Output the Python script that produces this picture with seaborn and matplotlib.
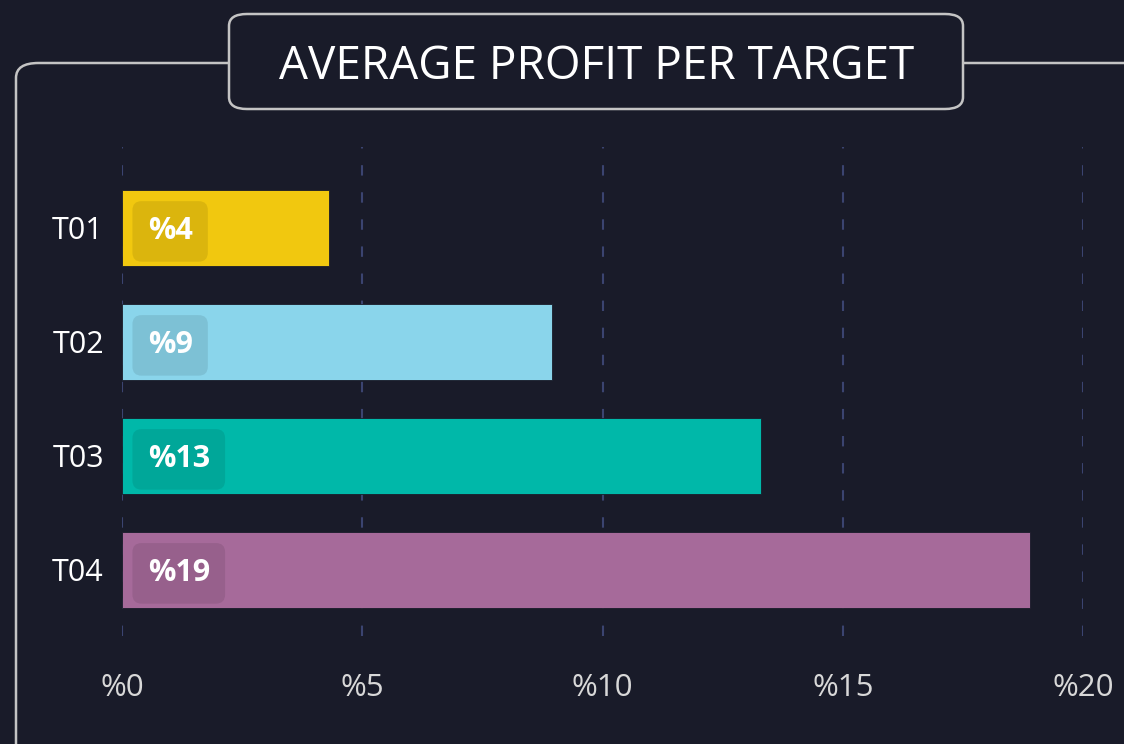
import pandas as pd
import matplotlib.pyplot as plt
import seaborn as sns
from matplotlib.patches import FancyBboxPatch

targets = ['T01', 'T02', 'T03', 'T04']
profits = [4.3, 8.95, 13.3, 18.9]
colors = ['#F1C80F', '#8AD5EB', '#00B8A9', '#A66A9A']
xticks = [0, 5, 10, 15, 20]
title = 'AVERAGE PROFIT PER TARGET'

bg = '#191B29'

sns.set_theme(style='dark')
plt.rcParams['font.family'] = ['Open Sans', 'DejaVu Sans']

df = pd.DataFrame({'Target': targets, 'Profit': profits})

fig = plt.figure(figsize=(11.24, 7.44), dpi=100, facecolor=bg)

# outer frame and title box
frame = FancyBboxPatch((16 / 1124, -0.1), 1.2, 1 - 63 / 744 + 0.1,
                       boxstyle='round,pad=0,rounding_size=0.02',
                       transform=fig.transFigure, fc='none', ec='#C4C4C4', lw=1.8)
fig.patches.append(frame)
tbox = FancyBboxPatch((229 / 1124, 1 - 109 / 744), (963 - 229) / 1124, 95 / 744,
                      boxstyle='round,pad=0,rounding_size=0.016',
                      transform=fig.transFigure, fc=bg, ec='#C4C4C4', lw=1.8, zorder=3)
fig.patches.append(tbox)
fig.text(597 / 1124, 1 - 67 / 744, title, ha='center', va='center',
         color='white', fontsize=33, zorder=4)

ax = fig.add_axes([122 / 1124, 1 - 636 / 744, (1083 - 122) / 1124, (636 - 147) / 744])
ax.set_facecolor(bg)

sns.barplot(data=df, x='Profit', y='Target', hue='Target', palette=colors,
            orient='h', width=0.66, legend=False, ax=ax, saturation=1,
            edgecolor=bg, linewidth=0.6, zorder=2)

for i, v in enumerate(profits):
    ax.annotate(f'%{round(v)}', xy=(0, i), xytext=(18.5, -2.5), textcoords='offset points',
                ha='left', va='center', color='white', fontsize=22, fontweight='bold',
                bbox=dict(boxstyle='round,pad=0.5,rounding_size=0.3', fc='black',
                          alpha=0.09, ec='none'), zorder=3)

ax.set_xlim(0, 20)
ax.set_ylim(3.58, -0.71)
ax.set_xticks(xticks)
ax.set_xticklabels([f'%{t}' for t in xticks])
ax.xaxis.grid(True, color='#3B4470', linestyle=(0, (5, 8)), linewidth=1.5, zorder=0)
ax.yaxis.grid(False)
ax.set_axisbelow(True)
ax.tick_params(axis='x', colors='#D8D8D8', labelsize=22.5, pad=27, length=0)
ax.tick_params(axis='y', colors='white', labelsize=22, pad=13, length=0)
ax.set_xlabel('')
ax.set_ylabel('')
for s in ax.spines.values():
    s.set_visible(False)

fig.savefig('out.png', dpi=100, facecolor=bg)
